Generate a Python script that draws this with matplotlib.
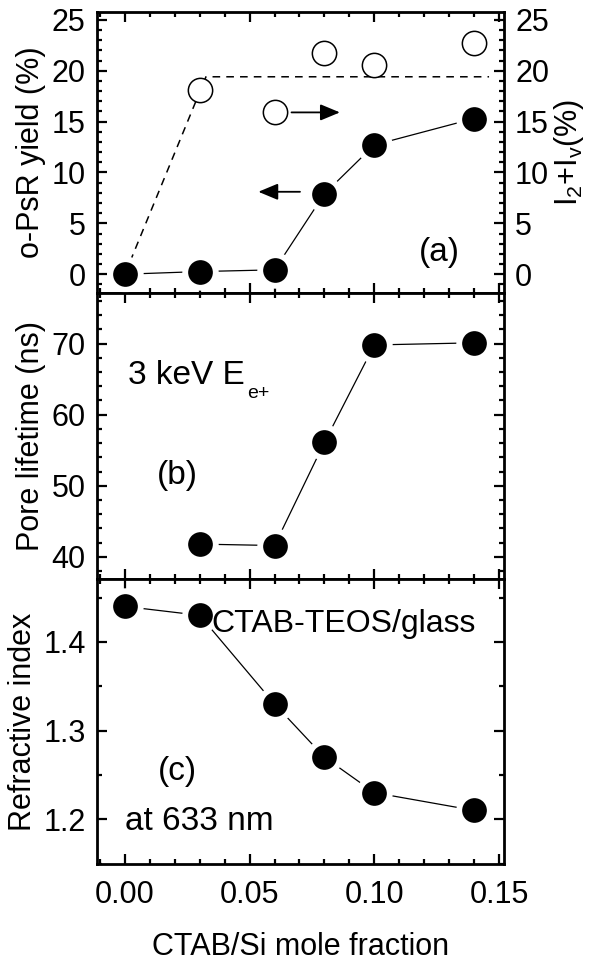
import numpy as np
import matplotlib
matplotlib.use('Agg')
import matplotlib.pyplot as plt
from matplotlib.ticker import MultipleLocator, FormatStrFormatter

plt.rcParams['font.family'] = ['Liberation Sans', 'DejaVu Sans']
plt.rcParams['mathtext.fontset'] = 'custom'
plt.rcParams['mathtext.rm'] = 'Liberation Sans'
plt.rcParams['mathtext.it'] = 'Liberation Sans:italic'

# CTAB/Si mole fraction
x_all = [0.0, 0.03, 0.06, 0.08, 0.10, 0.14]
x_open = [0.03, 0.06, 0.08, 0.10, 0.14]
x_pore = [0.03, 0.06, 0.08, 0.10, 0.14]

# (a) o-PsR yield (%) and I2+Iv (%)
psr_yield = [0.0, 0.26, 0.43, 7.9, 12.7, 15.3]
i2_iv = [18.1, 15.9, 21.7, 20.6, 22.7]
guide_x = [0.0, 0.0325, 0.146]
guide_y = [0.0, 19.4, 19.4]

# (b) pore lifetime (ns)
pore_life = [41.8, 41.6, 56.1, 69.8, 70.1]

# (c) refractive index at 633 nm
refr = [1.44, 1.43, 1.33, 1.27, 1.23, 1.21]

fs = 22     # ticks and axis labels
fs_txt = 24 # annotations inside panels
fig = plt.figure(figsize=(5.89, 9.63), dpi=100)
left, width = 0.1642, 0.6915
ax_a = fig.add_axes([left, 0.6957, width, 0.2922])
ax_b = fig.add_axes([left, 0.3988, width, 0.2969])
ax_c = fig.add_axes([left, 0.1023, width, 0.2965])

filled = dict(marker='o', ms=22, mfc='black', mec='white', mew=4.2, color='black', lw=0.9)
arrow = dict(arrowstyle='-|>,head_length=1.2,head_width=0.5', color='black', lw=1.3,
             shrinkA=0, shrinkB=0)


def style(ax, ymaj, ymin, right=True):
    ax.set_xlim(-0.0113, 0.152)
    ax.xaxis.set_major_locator(MultipleLocator(0.05))
    ax.xaxis.set_minor_locator(MultipleLocator(0.01))
    ax.yaxis.set_major_locator(MultipleLocator(ymaj))
    ax.yaxis.set_minor_locator(MultipleLocator(ymin))
    ax.tick_params(which='both', direction='in', top=True, right=right, width=1.6,
                   labelsize=fs, pad=8)
    ax.tick_params(which='major', length=7)
    ax.tick_params(which='minor', length=3.6)
    for s in ax.spines.values():
        s.set_linewidth(2.0)


# panel (a)
ax_a.plot(guide_x, guide_y, '--', color='black', lw=1.1, dashes=(5, 4), zorder=1)
ax_a.plot(x_open, i2_iv, 'o', ms=17.5, mfc='white', mec='black', mew=1.1, zorder=2)
ax_a.plot(x_all, psr_yield, zorder=3, **filled)
ax_a.set_ylim(-1.85, 25.8)
style(ax_a, 5, 1, right=False)
ax_a.tick_params(labelbottom=False)
ax_a.set_ylabel('o-PsR yield (%)', fontsize=fs)
ax_a.annotate('', xy=(0.0862, 15.9), xytext=(0.0668, 15.9), arrowprops=arrow)
ax_a.annotate('', xy=(0.0535, 8.1), xytext=(0.0702, 8.1), arrowprops=arrow)
ax_a.text(0.126, 2.1, '(a)', fontsize=fs_txt, ha='center', va='center')

ax_r = ax_a.twinx()
ax_r.set_ylim(-1.85, 25.8)
ax_r.yaxis.set_major_locator(MultipleLocator(5))
ax_r.yaxis.set_minor_locator(MultipleLocator(1))
ax_r.tick_params(which='both', direction='in', width=1.6, labelsize=fs, pad=8)
ax_r.tick_params(which='major', length=7)
ax_r.tick_params(which='minor', length=3.6)
ax_r.set_ylabel(r'I$_\mathrm{2}$+I$_\mathrm{v}$(%)', fontsize=fs, rotation=90, labelpad=2)

# panel (b)
ax_b.plot(x_pore, pore_life, **filled)
ax_b.set_ylim(36.9, 77.1)
style(ax_b, 10, 2)
ax_b.tick_params(labelbottom=False)
ax_b.set_ylabel('Pore lifetime (ns)', fontsize=fs)
t = ax_b.text(0.0012, 64.3, '3 keV E', fontsize=fs_txt, ha='left', va='baseline')
ax_b.annotate('e+', xy=(1, 0), xycoords=t, xytext=(1.5, -5), textcoords='offset points',
              fontsize=14, ha='left', va='baseline')
ax_b.text(0.021, 51.4, '(b)', fontsize=fs_txt, ha='center', va='center')

# panel (c)
ax_c.plot(x_all, refr, **filled)
ax_c.set_ylim(1.149, 1.471)
style(ax_c, 0.1, 0.05)
ax_c.xaxis.set_major_formatter(FormatStrFormatter('%.2f'))
ax_c.tick_params(axis='x', pad=11)
ax_c.set_ylabel('Refractive index', fontsize=fs)
ax_c.set_xlabel('CTAB/Si mole fraction', fontsize=fs, labelpad=16)
ax_c.text(0.0345, 1.42, 'CTAB-TEOS/glass', fontsize=23, ha='left', va='center')
ax_c.text(0.021, 1.254, '(c)', fontsize=fs_txt, ha='center', va='center')
ax_c.text(0.0, 1.197, 'at 633 nm', fontsize=fs_txt, ha='left', va='center')

fig.align_ylabels([ax_a, ax_b, ax_c])

fig.savefig('out.png', dpi=100)
